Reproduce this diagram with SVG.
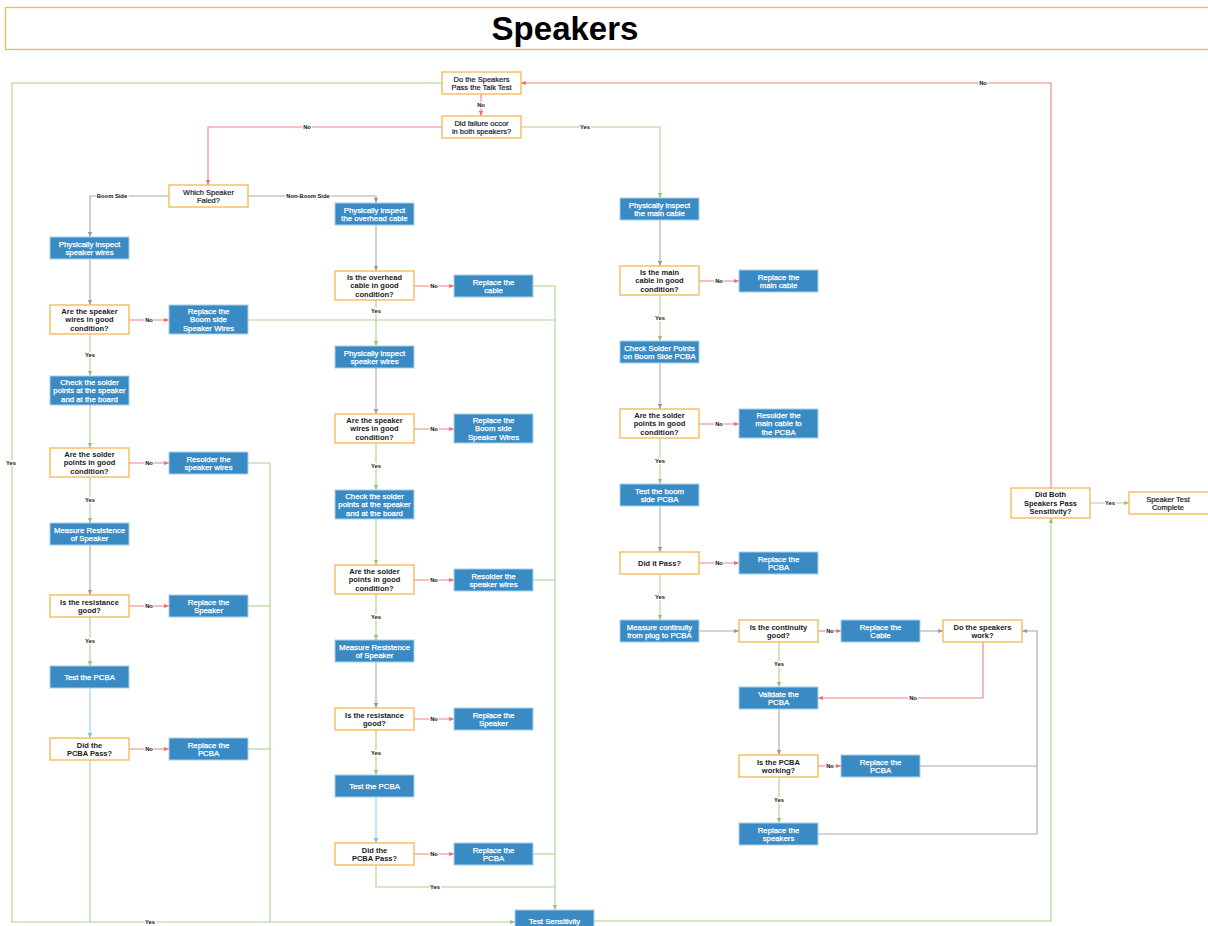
<svg xmlns="http://www.w3.org/2000/svg" width="1208" height="926" viewBox="0 0 1208 926">
<style>
.dec rect{fill:#fff;stroke:#f8b64f;stroke-width:1.3}
.act rect{fill:#3a8bc4;stroke:#a9d0ec;stroke-width:1}
text{font-family:"Liberation Sans",Arial,sans-serif;text-anchor:middle}
.dec text{font-size:7.5px;font-weight:bold;fill:#1a1a1a}
.dec text.n{font-weight:normal;stroke:#1a1a1a;stroke-width:0.2px}
.act text{font-size:7.8px;fill:#fff;stroke:#fff;stroke-width:0.25px}
.c path{fill:none;stroke-width:1.1}
.r{stroke:#ef8080}.g{stroke:#a8d28c}.k{stroke:#a9a9a9}.b{stroke:#8dd0f0}
.lbl{font-size:5.8px;font-weight:bold;fill:#111;paint-order:stroke;stroke:#fff;stroke-width:2.5px}
</style>
<defs>
<marker id="mr" viewBox="0 0 6 6" refX="6" refY="3" markerWidth="4.5" markerHeight="4.5" orient="auto"><path d="M0,0.5L6,3L0,5.5z" fill="#ef6f6f"/></marker>
<marker id="mg" viewBox="0 0 6 6" refX="6" refY="3" markerWidth="4.5" markerHeight="4.5" orient="auto"><path d="M0,0.5L6,3L0,5.5z" fill="#94c774"/></marker>
<marker id="mk" viewBox="0 0 6 6" refX="6" refY="3" markerWidth="4.5" markerHeight="4.5" orient="auto"><path d="M0,0.5L6,3L0,5.5z" fill="#999"/></marker>
<marker id="mb" viewBox="0 0 6 6" refX="6" refY="3" markerWidth="4.5" markerHeight="4.5" orient="auto"><path d="M0,0.5L6,3L0,5.5z" fill="#6fc3ec"/></marker>
</defs>
<rect width="1208" height="926" fill="#fff"/>
<g id="title">
<rect x="5.5" y="7.5" width="1210" height="42" fill="#fff" stroke="#f8b64f" stroke-width="1.3"/>
<text x="565" y="40" style="font-size:33px;font-weight:bold;fill:#000">Speakers</text>
</g>
<g id="connectors" class="c">
<path class="r" marker-end="url(#mr)" d="M481,94V116"/>
<path class="r" marker-end="url(#mr)" d="M442,127H208V185"/>
<path class="g" marker-end="url(#mg)" d="M521,127H660V198"/>
<path class="k" marker-end="url(#mk)" d="M169,196H90V237"/>
<path class="k" marker-end="url(#mk)" d="M248,196H376V203"/>
<path class="g" marker-end="url(#mg)" d="M442,83H12V922H515"/>
<path class="k" marker-end="url(#mk)" d="M90,259V305"/>
<path class="r" marker-end="url(#mr)" d="M129,320H169"/>
<path class="g" marker-end="url(#mg)" d="M90,334V376"/>
<path class="g" marker-end="url(#mg)" d="M90,405V448"/>
<path class="r" marker-end="url(#mr)" d="M129,463H169"/>
<path class="g" marker-end="url(#mg)" d="M90,477V523"/>
<path class="k" marker-end="url(#mk)" d="M90,545V595"/>
<path class="r" marker-end="url(#mr)" d="M129,606H169"/>
<path class="g" marker-end="url(#mg)" d="M90,617V666"/>
<path class="b" marker-end="url(#mb)" d="M90,688V738"/>
<path class="r" marker-end="url(#mr)" d="M129,749H169"/>
<path class="g" d="M90,760V922"/>
<path class="g" d="M248,320H555"/>
<path class="g" d="M248,463H270V922"/>
<path class="g" d="M248,606H270"/>
<path class="g" d="M248,749H270"/>
<path class="g" marker-end="url(#mg)" d="M533,286H555V910"/>
<path class="k" marker-end="url(#mk)" d="M376,225V271"/>
<path class="r" marker-end="url(#mr)" d="M414,286H454"/>
<path class="g" marker-end="url(#mg)" d="M376,300V346"/>
<path class="k" marker-end="url(#mk)" d="M376,368V414"/>
<path class="r" marker-end="url(#mr)" d="M414,429H454"/>
<path class="g" marker-end="url(#mg)" d="M376,443V490"/>
<path class="g" marker-end="url(#mg)" d="M376,519V565"/>
<path class="r" marker-end="url(#mr)" d="M414,580H454"/>
<path class="g" marker-end="url(#mg)" d="M376,594V640"/>
<path class="k" marker-end="url(#mk)" d="M376,662V708"/>
<path class="r" marker-end="url(#mr)" d="M414,719H454"/>
<path class="g" marker-end="url(#mg)" d="M376,730V775"/>
<path class="b" marker-end="url(#mb)" d="M376,797V843"/>
<path class="r" marker-end="url(#mr)" d="M414,854H454"/>
<path class="g" d="M376,865V887H555"/>
<path class="g" d="M533,580H555"/>
<path class="g" d="M533,854H555"/>
<path class="k" marker-end="url(#mk)" d="M660,220V266"/>
<path class="r" marker-end="url(#mr)" d="M699,281H739"/>
<path class="g" marker-end="url(#mg)" d="M660,295V341"/>
<path class="k" marker-end="url(#mk)" d="M660,363V409"/>
<path class="r" marker-end="url(#mr)" d="M699,424H739"/>
<path class="g" marker-end="url(#mg)" d="M660,438V484"/>
<path class="k" marker-end="url(#mk)" d="M660,506V552"/>
<path class="r" marker-end="url(#mr)" d="M699,563H739"/>
<path class="g" marker-end="url(#mg)" d="M660,574V620"/>
<path class="k" marker-end="url(#mk)" d="M699,631H739"/>
<path class="r" marker-end="url(#mr)" d="M818,631H841"/>
<path class="k" marker-end="url(#mk)" d="M920,631H943"/>
<path class="r" marker-end="url(#mr)" d="M983,642V698H818"/>
<path class="g" marker-end="url(#mg)" d="M779,642V687"/>
<path class="k" marker-end="url(#mk)" d="M779,709V755"/>
<path class="r" marker-end="url(#mr)" d="M818,766H841"/>
<path class="g" marker-end="url(#mg)" d="M779,777V823"/>
<path class="k" d="M920,766H1037"/>
<path class="k" marker-end="url(#mk)" d="M818,834H1037V631H1022"/>
<path class="g" marker-end="url(#mg)" d="M594,921H1051V518"/>
<path class="r" marker-end="url(#mr)" d="M1051,488V83H521"/>
<path class="g" marker-end="url(#mg)" d="M1090,503H1129"/>
<g>
<text class="lbl" x="481" y="107">No</text>
<text class="lbl" x="307" y="129">No</text>
<text class="lbl" x="585" y="129">Yes</text>
<text class="lbl" x="112" y="198">Boom Side</text>
<text class="lbl" x="308" y="198">Non-Boom Side</text>
<text class="lbl" x="11" y="465">Yes</text>
<text class="lbl" x="150" y="924">Yes</text>
<text class="lbl" x="149" y="322">No</text>
<text class="lbl" x="90" y="357">Yes</text>
<text class="lbl" x="149" y="465">No</text>
<text class="lbl" x="90" y="502">Yes</text>
<text class="lbl" x="149" y="608">No</text>
<text class="lbl" x="90" y="643">Yes</text>
<text class="lbl" x="149" y="751">No</text>
<text class="lbl" x="434" y="288">No</text>
<text class="lbl" x="376" y="313">Yes</text>
<text class="lbl" x="434" y="431">No</text>
<text class="lbl" x="376" y="468">Yes</text>
<text class="lbl" x="434" y="582">No</text>
<text class="lbl" x="376" y="619">Yes</text>
<text class="lbl" x="434" y="721">No</text>
<text class="lbl" x="376" y="755">Yes</text>
<text class="lbl" x="434" y="856">No</text>
<text class="lbl" x="435" y="889">Yes</text>
<text class="lbl" x="719" y="283">No</text>
<text class="lbl" x="660" y="320">Yes</text>
<text class="lbl" x="719" y="426">No</text>
<text class="lbl" x="660" y="463">Yes</text>
<text class="lbl" x="719" y="565">No</text>
<text class="lbl" x="660" y="599">Yes</text>
<text class="lbl" x="830" y="633">No</text>
<text class="lbl" x="779" y="666">Yes</text>
<text class="lbl" x="913" y="700">No</text>
<text class="lbl" x="830" y="768">No</text>
<text class="lbl" x="779" y="802">Yes</text>
<text class="lbl" x="983" y="85">No</text>
<text class="lbl" x="1110" y="505">Yes</text>
</g>
</g>
<g id="D1" class="dec"><rect x="442" y="72" width="79" height="22"/><text class="n" x="481.5" y="81.5">Do the Speakers</text><text class="n" x="481.5" y="90">Pass the Talk Test</text></g>
<g id="D2" class="dec"><rect x="442" y="116" width="79" height="22"/><text class="n" x="481.5" y="125.5">Did failure occor</text><text class="n" x="481.5" y="134">in both speakers?</text></g>
<g id="D3" class="dec"><rect x="169" y="185" width="79" height="22"/><text class="n" x="208.5" y="194.5">Which Speaker</text><text class="n" x="208.5" y="203">Faled?</text></g>

<g id="P1" class="act"><rect x="50" y="237" width="79" height="22"/><text x="89.5" y="246.5">Physically inspect</text><text x="89.5" y="255">speaker wires</text></g>
<g id="D4" class="dec"><rect x="50" y="305" width="79" height="29"/><text x="89.5" y="313.7">Are the speaker</text><text x="89.5" y="322.2">wires in good</text><text x="89.5" y="330.7">condition?</text></g>
<g id="R1" class="act"><rect x="169" y="305" width="79" height="29"/><text x="208.5" y="313.7">Replace the</text><text x="208.5" y="322.2">Boom side</text><text x="208.5" y="330.7">Speaker Wires</text></g>
<g id="P2" class="act"><rect x="50" y="376" width="79" height="29"/><text x="89.5" y="384.7">Check the solder</text><text x="89.5" y="393.2">points at the speaker</text><text x="89.5" y="401.7">and at the board</text></g>
<g id="D5" class="dec"><rect x="50" y="448" width="79" height="29"/><text x="89.5" y="456.7">Are the solder</text><text x="89.5" y="465.2">points in good</text><text x="89.5" y="473.7">condition?</text></g>
<g id="R2" class="act"><rect x="169" y="452" width="79" height="22"/><text x="208.5" y="461.5">Resolder the</text><text x="208.5" y="470">speaker wires</text></g>
<g id="P3" class="act"><rect x="50" y="523" width="79" height="22"/><text x="89.5" y="532.5">Measure Resistence</text><text x="89.5" y="541">of Speaker</text></g>
<g id="D6" class="dec"><rect x="50" y="595" width="79" height="22"/><text x="89.5" y="604.5">Is the resistance</text><text x="89.5" y="613">good?</text></g>
<g id="R3" class="act"><rect x="169" y="595" width="79" height="22"/><text x="208.5" y="604.5">Replace the</text><text x="208.5" y="613">Speaker</text></g>
<g id="P4" class="act"><rect x="50" y="666" width="79" height="22"/><text x="89.5" y="679.7">Test the PCBA</text></g>
<g id="D7" class="dec"><rect x="50" y="738" width="79" height="22"/><text x="89.5" y="747.5">Did the</text><text x="89.5" y="756">PCBA Pass?</text></g>
<g id="R4" class="act"><rect x="169" y="738" width="79" height="22"/><text x="208.5" y="747.5">Replace the</text><text x="208.5" y="756">PCBA</text></g>

<g id="M1" class="act"><rect x="335" y="203" width="79" height="22"/><text x="374.5" y="212.5">Physically inspect</text><text x="374.5" y="221">the overhead cable</text></g>
<g id="MD1" class="dec"><rect x="335" y="271" width="79" height="29"/><text x="374.5" y="279.7">Is the overhead</text><text x="374.5" y="288.2">cable in good</text><text x="374.5" y="296.7">condition?</text></g>
<g id="MR1" class="act"><rect x="454" y="275" width="79" height="22"/><text x="493.5" y="284.5">Replace the</text><text x="493.5" y="293">cable</text></g>
<g id="M2" class="act"><rect x="335" y="346" width="79" height="22"/><text x="374.5" y="355.5">Physically inspect</text><text x="374.5" y="364">speaker wires</text></g>
<g id="MD2" class="dec"><rect x="335" y="414" width="79" height="29"/><text x="374.5" y="422.7">Are the speaker</text><text x="374.5" y="431.2">wires in good</text><text x="374.5" y="439.7">condition?</text></g>
<g id="MR2" class="act"><rect x="454" y="414" width="79" height="29"/><text x="493.5" y="422.7">Replace the</text><text x="493.5" y="431.2">Boom side</text><text x="493.5" y="439.7">Speaker Wires</text></g>
<g id="M3" class="act"><rect x="335" y="490" width="79" height="29"/><text x="374.5" y="498.7">Check the solder</text><text x="374.5" y="507.2">points at the speaker</text><text x="374.5" y="515.7">and at the board</text></g>
<g id="MD3" class="dec"><rect x="335" y="565" width="79" height="29"/><text x="374.5" y="573.7">Are the solder</text><text x="374.5" y="582.2">points in good</text><text x="374.5" y="590.7">condition?</text></g>
<g id="MR3" class="act"><rect x="454" y="569" width="79" height="22"/><text x="493.5" y="578.5">Resolder the</text><text x="493.5" y="587">speaker wires</text></g>
<g id="M4" class="act"><rect x="335" y="640" width="79" height="22"/><text x="374.5" y="649.5">Measure Resistence</text><text x="374.5" y="658">of Speaker</text></g>
<g id="MD4" class="dec"><rect x="335" y="708" width="79" height="22"/><text x="374.5" y="717.5">Is the resistance</text><text x="374.5" y="726">good?</text></g>
<g id="MR4" class="act"><rect x="454" y="708" width="79" height="22"/><text x="493.5" y="717.5">Replace the</text><text x="493.5" y="726">Speaker</text></g>
<g id="M5" class="act"><rect x="335" y="775" width="79" height="22"/><text x="374.5" y="788.7">Test the PCBA</text></g>
<g id="MD5" class="dec"><rect x="335" y="843" width="79" height="22"/><text x="374.5" y="852.5">Did the</text><text x="374.5" y="861">PCBA Pass?</text></g>
<g id="MR5" class="act"><rect x="454" y="843" width="79" height="22"/><text x="493.5" y="852.5">Replace the</text><text x="493.5" y="861">PCBA</text></g>
<g id="TS" class="act"><rect x="515" y="910" width="79" height="22"/><text x="554.5" y="923.7">Test Sensitivity</text></g>

<g id="N1" class="act"><rect x="620" y="198" width="79" height="22"/><text x="659.5" y="207.5">Physically inspect</text><text x="659.5" y="216">the main cable</text></g>
<g id="ND1" class="dec"><rect x="620" y="266" width="79" height="29"/><text x="659.5" y="274.7">Is the main</text><text x="659.5" y="283.2">cable in good</text><text x="659.5" y="291.7">condition?</text></g>
<g id="NR1" class="act"><rect x="739" y="270" width="79" height="22"/><text x="778.5" y="279.5">Replace the</text><text x="778.5" y="288">main cable</text></g>
<g id="N2" class="act"><rect x="620" y="341" width="79" height="22"/><text x="659.5" y="350.5">Check Solder Points</text><text x="659.5" y="359">on Boom Side PCBA</text></g>
<g id="ND2" class="dec"><rect x="620" y="409" width="79" height="29"/><text x="659.5" y="417.7">Are the solder</text><text x="659.5" y="426.2">points in good</text><text x="659.5" y="434.7">condition?</text></g>
<g id="NR2" class="act"><rect x="739" y="409" width="79" height="29"/><text x="778.5" y="417.7">Resolder the</text><text x="778.5" y="426.2">main cable to</text><text x="778.5" y="434.7">the PCBA</text></g>
<g id="N3" class="act"><rect x="620" y="484" width="79" height="22"/><text x="659.5" y="493.5">Test the boom</text><text x="659.5" y="502">side PCBA</text></g>
<g id="ND3" class="dec"><rect x="620" y="552" width="79" height="22"/><text x="659.5" y="565.7">Did it Pass?</text></g>
<g id="NR3" class="act"><rect x="739" y="552" width="79" height="22"/><text x="778.5" y="561.5">Replace the</text><text x="778.5" y="570">PCBA</text></g>
<g id="N4" class="act"><rect x="620" y="620" width="79" height="22"/><text x="659.5" y="629.5">Measure continuity</text><text x="659.5" y="638">from plug to PCBA</text></g>
<g id="ND4" class="dec"><rect x="739" y="620" width="79" height="22"/><text x="778.5" y="629.5">Is the continuity</text><text x="778.5" y="638">good?</text></g>
<g id="NR4" class="act"><rect x="841" y="620" width="79" height="22"/><text x="880.5" y="629.5">Replace the</text><text x="880.5" y="638">Cable</text></g>
<g id="ND5" class="dec"><rect x="943" y="620" width="79" height="22"/><text x="982.5" y="629.5">Do the speakers</text><text x="982.5" y="638">work?</text></g>
<g id="N5" class="act"><rect x="739" y="687" width="79" height="22"/><text x="778.5" y="696.5">Validate the</text><text x="778.5" y="705">PCBA</text></g>
<g id="ND6" class="dec"><rect x="739" y="755" width="79" height="22"/><text x="778.5" y="764.5">Is the PCBA</text><text x="778.5" y="773">working?</text></g>
<g id="NR5" class="act"><rect x="841" y="755" width="79" height="22"/><text x="880.5" y="764.5">Replace the</text><text x="880.5" y="773">PCBA</text></g>
<g id="N6" class="act"><rect x="739" y="823" width="79" height="22"/><text x="778.5" y="832.5">Replace the</text><text x="778.5" y="841">speakers</text></g>
<g id="FD" class="dec"><rect x="1011" y="488" width="79" height="30"/><text x="1050.5" y="497">Did Both</text><text x="1050.5" y="505.5">Speakers Pass</text><text x="1050.5" y="514">Sensitivity?</text></g>
<g id="END" class="dec"><rect x="1129" y="492" width="85" height="22"/><text class="n" x="1168" y="501.5">Speaker Test</text><text class="n" x="1168" y="510">Complete</text></g>
</svg>
